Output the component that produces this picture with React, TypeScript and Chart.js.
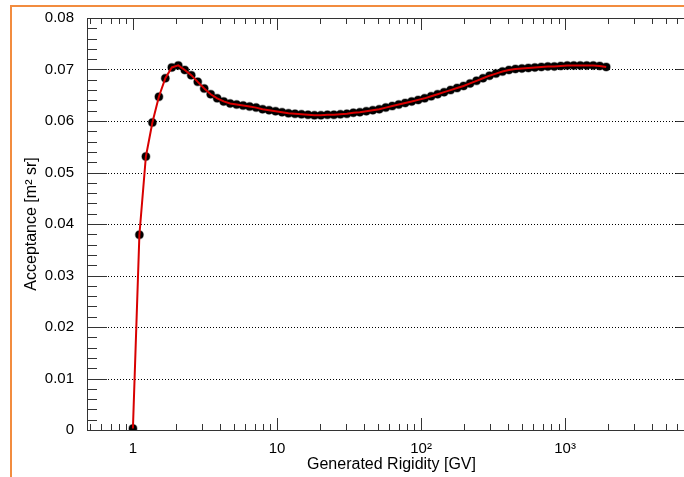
import React, { useEffect, useRef } from 'react';
import { Chart, registerables } from 'chart.js';

Chart.register(...registerables);

// Generated rigidity bin centres [GV]
const rigidity: number[] = [
  1.0, 1.109, 1.23, 1.365, 1.514, 1.679, 1.862, 2.065, 2.291, 2.541,
  2.818, 3.126, 3.467, 3.846, 4.266, 4.732, 5.248, 5.821, 6.457, 7.161,
  7.943, 8.81, 9.772, 10.84, 12.02, 13.34, 14.79, 16.41, 18.2, 20.18,
  22.39, 24.83, 27.54, 30.55, 33.88, 37.58, 41.69, 46.24, 51.29, 56.89,
  63.1, 69.98, 77.62, 86.1, 95.5, 105.9, 117.5, 130.3, 144.5, 160.3,
  177.8, 197.2, 218.8, 242.7, 269.2, 298.5, 331.1, 367.3, 407.4, 451.9,
  501.2, 555.9, 616.6, 683.9, 758.6, 841.4, 933.3, 1035, 1148, 1274,
  1413, 1567, 1738, 1928,
];

// Acceptance [m^2 sr]
const acceptance: number[] = [
  0.0003, 0.0379, 0.0531, 0.0597, 0.0647, 0.0683, 0.0704, 0.0708, 0.0699, 0.0689,
  0.0676, 0.0663, 0.0652, 0.0644, 0.0638, 0.0634, 0.0632, 0.063, 0.0628, 0.0626,
  0.0623, 0.0621, 0.0619, 0.0617, 0.0615, 0.0614, 0.0613, 0.0612, 0.0611, 0.0611,
  0.0612, 0.0612, 0.0613, 0.0614, 0.0616, 0.0617, 0.0619, 0.0621, 0.0623, 0.0626,
  0.0629, 0.0632, 0.0635, 0.0638, 0.0641, 0.0644, 0.0648, 0.0652, 0.0656, 0.066,
  0.0664, 0.0668, 0.0673, 0.0678, 0.0683, 0.0688, 0.0692, 0.0696, 0.0699, 0.0701,
  0.0702, 0.0703, 0.0704, 0.0705, 0.0706, 0.0706, 0.0707, 0.0708, 0.0708, 0.0708,
  0.0708, 0.0708, 0.0707, 0.0705,
];

const xMajorLabels: string[] = ['1', '10', '10\u00B2', '10\u00B3'];
const xTitle = 'Generated Rigidity [GV]';
const yTitle = 'Acceptance [m\u00B2 sr]';

const X_MIN = 0.48;
const X_MAX = 8100;
const Y_MIN = 0;
const Y_MAX = 0.08;
const Y_STEP = 0.01;
const Y_MINOR = 0.002;

const FONT = '"Liberation Sans", Arial, Helvetica, sans-serif';

const rootFramePlugin = {
  id: 'rootFrame',
  beforeDraw(chart: any) {
    const { ctx, width, height } = chart;
    ctx.save();
    ctx.fillStyle = '#ffffff';
    ctx.fillRect(0, 0, width, height);
    ctx.strokeStyle = '#f28c3f';
    ctx.lineWidth = 2;
    ctx.strokeRect(11, 6, width + 40, height + 40);
    ctx.restore();
  },
  beforeDatasetsDraw(chart: any) {
    const { ctx, chartArea } = chart;
    const xs = chart.scales.x;
    const ys = chart.scales.y;
    const L = chartArea.left;
    const R = chartArea.right;
    const T = chartArea.top;
    const B = chartArea.bottom;
    ctx.save();
    // dotted horizontal grid
    ctx.strokeStyle = '#000';
    ctx.lineWidth = 1;
    ctx.setLineDash([1, 2]);
    for (let k = 1; k < Math.round((Y_MAX - Y_MIN) / Y_STEP); k++) {
      const py = Math.round(ys.getPixelForValue(Y_MIN + k * Y_STEP)) + 0.5;
      ctx.beginPath();
      ctx.moveTo(L, py);
      ctx.lineTo(R, py);
      ctx.stroke();
    }
    ctx.setLineDash([]);
    // frame
    ctx.strokeStyle = '#333';
    ctx.lineWidth = 1;
    ctx.strokeRect(Math.round(L) + 0.5, Math.round(T) + 0.5, Math.round(R - L), Math.round(B - T));
    // y ticks (left & right, inward)
    const nMinor = Math.round((Y_MAX - Y_MIN) / Y_MINOR);
    const per = Math.round(Y_STEP / Y_MINOR);
    ctx.beginPath();
    for (let k = 0; k <= nMinor; k++) {
      const py = Math.round(ys.getPixelForValue(Y_MIN + k * Y_MINOR)) + 0.5;
      const len = k % per === 0 ? 20 : 10;
      ctx.moveTo(L, py);
      ctx.lineTo(L + len, py);
      ctx.moveTo(R, py);
      ctx.lineTo(R - len, py);
    }
    // x ticks (bottom & top, inward)
    for (let e = -1; e <= 3; e++) {
      for (let m = 1; m <= 9; m++) {
        const v = m * Math.pow(10, e);
        if (v < X_MIN || v > X_MAX) continue;
        const px = Math.round(xs.getPixelForValue(v)) + 0.5;
        const len = m === 1 ? 12 : 6;
        ctx.moveTo(px, B);
        ctx.lineTo(px, B - len);
        ctx.moveTo(px, T);
        ctx.lineTo(px, T + len);
      }
    }
    ctx.stroke();
    ctx.restore();
  },
};

export default function App() {
  const canvasRef = useRef<HTMLCanvasElement | null>(null);

  useEffect(() => {
    const canvas = canvasRef.current;
    if (!canvas) return;
    const points = rigidity.map((x, i) => ({ x, y: acceptance[i] }));
    const chart = new Chart(canvas, {
      type: 'scatter',
      data: {
        datasets: [
          {
            label: 'fit',
            data: points,
            showLine: true,
            borderColor: '#d80000',
            borderWidth: 2,
            pointRadius: 0,
            fill: false,
            tension: 0,
            order: 0,
          } as any,
          {
            label: 'acceptance',
            data: points,
            showLine: false,
            pointRadius: 4,
            pointHoverRadius: 4,
            backgroundColor: '#000',
            borderColor: 'rgba(0,0,0,0.35)',
            borderWidth: 1.5,
            order: 1,
          } as any,
        ],
      },
      options: {
        responsive: false,
        animation: false,
        devicePixelRatio: 1,
        layout: { padding: { left: 0, top: 18, right: 24, bottom: 0 } },
        plugins: {
          legend: { display: false },
          tooltip: { enabled: false },
        },
        events: [],
        scales: {
          x: {
            type: 'logarithmic',
            position: 'bottom',
            min: X_MIN,
            max: X_MAX,
            grid: { display: false },
            border: { display: false },
            afterFit: (s: any) => {
              s.height = 47;
            },
            ticks: {
              autoSkip: false,
              maxRotation: 0,
              minRotation: 0,
              padding: 2,
              color: '#000',
              font: { family: FONT, size: 15 },
              callback: (value: any) => {
                const v = Number(value);
                const lg = Math.log10(v);
                const r = Math.round(lg);
                if (Math.abs(lg - r) < 1e-6 && r >= 0 && r < xMajorLabels.length) {
                  return xMajorLabels[r];
                }
                return '';
              },
            },
            title: {
              display: true,
              text: xTitle,
              color: '#000',
              font: { family: FONT, size: 16 },
              padding: { top: 0, bottom: 3 },
            },
          } as any,
          y: {
            type: 'linear',
            position: 'left',
            min: Y_MIN,
            max: Y_MAX,
            grid: { display: false },
            border: { display: false },
            afterFit: (s: any) => {
              s.width = 87;
            },
            ticks: {
              stepSize: Y_STEP,
              padding: 5,
              color: '#000',
              font: { family: FONT, size: 15 },
              callback: (value: any) => {
                const v = Number(value);
                if (Math.abs(v) < 1e-9) return '0';
                return v.toFixed(2);
              },
            },
            title: {
              display: true,
              text: yTitle,
              color: '#000',
              font: { family: FONT, size: 16 },
              padding: { top: 22, bottom: 0 },
            },
          } as any,
        },
      },
      plugins: [rootFramePlugin],
    });
    return () => {
      chart.destroy();
    };
  }, []);

  return (
    <div
      style={{
        position: 'fixed',
        left: 0,
        top: 0,
        width: 684,
        height: 477,
        overflow: 'hidden',
        background: '#fff',
      }}
    >
      <canvas
        ref={canvasRef}
        width={720}
        height={477}
        style={{ display: 'block', width: 720, height: 477 }}
      />
    </div>
  );
}
